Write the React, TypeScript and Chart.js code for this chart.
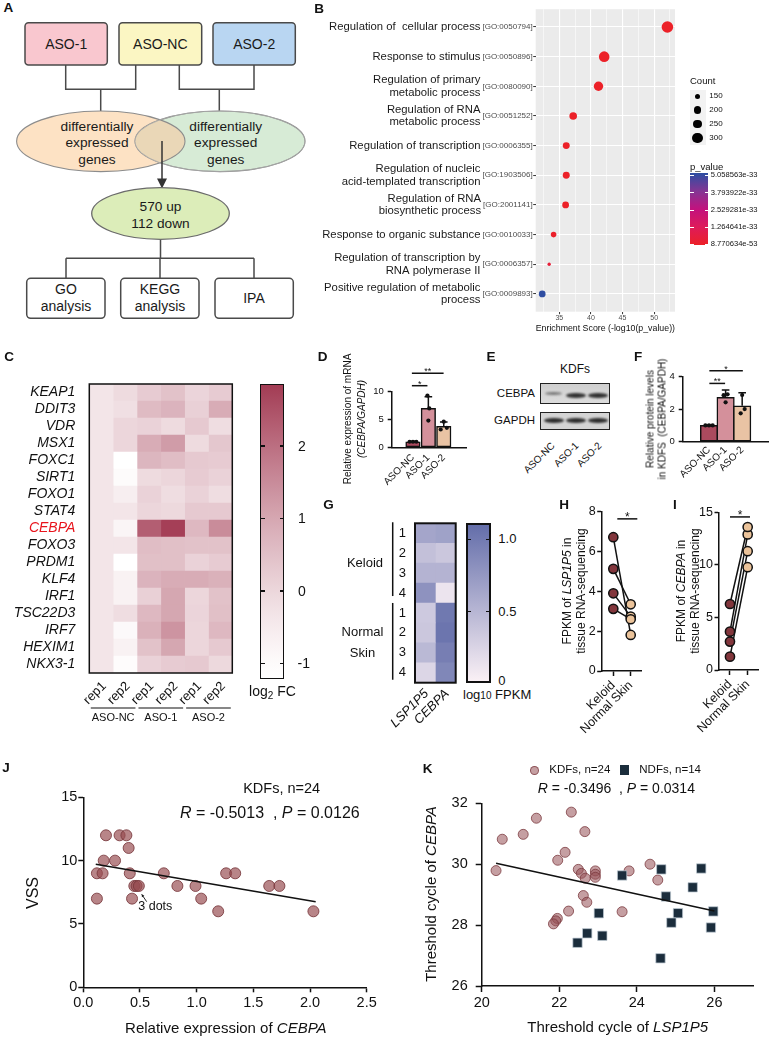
import React, { useEffect, useRef } from 'react';
import { Chart, registerables } from 'chart.js';

Chart.register(...registerables);
const FONT = '"Liberation Sans", Arial, Helvetica, sans-serif';
Chart.defaults.font.family = FONT;
Chart.defaults.color = '#111';

// ===================== Panel B data =====================
const goTerms = [
  'Regulation of  cellular process',
  'Response to stimulus',
  'Regulation of primary\nmetabolic process',
  'Regulation of RNA\nmetabolic process',
  'Regulation of transcription',
  'Regulation of nucleic\nacid-templated transcription',
  'Regulation of RNA\nbiosynthetic process',
  'Response to organic substance',
  'Regulation of transcription by\nRNA polymerase II',
  'Positive regulation of metabolic\nprocess',
];
const goIds = ['[GO:0050794]', '[GO:0050896]', '[GO:0080090]', '[GO:0051252]', '[GO:0006355]', '[GO:1903506]', '[GO:2001141]', '[GO:0010033]', '[GO:0006357]', '[GO:0009893]'];
const goScore = [52.1, 42.1, 41.2, 37.2, 36.1, 36.1, 36.0, 34.1, 33.4, 32.3];
const goCount = [330, 300, 265, 215, 195, 195, 190, 155, 90, 190];
const countKeys = [150, 200, 250, 300];
const pTickLabels = ['5.058563e-33', '3.793922e-33', '2.529281e-33', '1.264641e-33', '8.770634e-53'];
const bGridX = [32.5, 35, 37.5, 40, 42.5, 45, 47.5, 50, 52.5];

// ===================== Panel C data =====================
const genes = ['KEAP1', 'DDIT3', 'VDR', 'MSX1', 'FOXC1', 'SIRT1', 'FOXO1', 'STAT4', 'CEBPA', 'FOXO3', 'PRDM1', 'KLF4', 'IRF1', 'TSC22D3', 'IRF7', 'HEXIM1', 'NKX3-1'];
const repLabels = ['rep1', 'rep2', 'rep1', 'rep2', 'rep1', 'rep2'];
const cGroups = ['ASO-NC', 'ASO-1', 'ASO-2'];
const ncRep1 = [-0.35, -0.35, -0.35, -0.35, -0.35, -0.35, -0.35, -0.35, -0.35, -0.35, -0.35, -0.35, -0.35, -0.35, -0.35, -0.35, -0.35];
const ncRep2 = [-0.1, -0.2, 0.0, 0.0, -1.2, -1.0, -0.6, -0.35, -0.8, -0.35, -1.2, -0.7, -0.7, -0.15, -0.95, -0.7, -1.05];
const aso1Rep1 = [0.25, 0.6, 0.1, 0.9, 0.7, -0.1, 0.1, 0.0, 2.3, 0.55, 0.5, 0.75, 0.15, 0.65, 0.8, 0.45, 0.1];
const aso1Rep2 = [0.45, 0.75, -0.1, 1.2, 0.55, 0.0, -0.15, -0.05, 2.8, 0.5, 0.5, 0.9, 1.0, 1.0, 1.35, 1.0, 0.25];
const aso2Rep1 = [0.05, 0.15, 0.3, -0.1, 0.3, 0.25, 0.1, 0.3, 0.65, 0.45, 0.1, 0.9, 0.0, 0.05, 0.0, 0.0, 0.3];
const aso2Rep2 = [0.25, 0.9, -0.15, 0.35, 0.25, 0.1, -0.15, 0.3, 1.5, 0.45, 0.25, 0.8, 0.45, 0.5, 0.65, 0.3, -0.05];
const cColumns = [ncRep1, ncRep2, aso1Rep1, aso1Rep2, aso2Rep1, aso2Rep2];
const cColorTicks = [2, 1, 0, -1];

// ===================== Panel D / F data =====================
const dGroups = ['ASO-NC', 'ASO-1', 'ASO-2'];
const dMean = [1.0, 7.0, 3.77];
const dSD = [0.08, 2.1, 0.8];
const dReps = [[1.0, 1.0, 1.0], [4.8, 7.0, 9.3], [3.2, 3.5, 4.6]];
const fGroups = ['ASO-NC', 'ASO-1', 'ASO-2'];
const fMean = [1.0, 2.72, 2.2];
const fSD = [0.03, 0.44, 0.8];
const fReps = [[1.0, 1.0, 1.0], [2.41, 2.85, 2.9], [1.74, 2.0, 2.86]];

// ===================== Panel G data =====================
const gRowLabels = ['1', '2', '3', '4', '1', '2', '3', '4'];
const gGenes = ['LSP1P5', 'CEBPA'];
const gLSP1P5 = [0.64, 0.41, 0.52, 0.8, 0.33, 0.35, 0.47, 0.22];
const gCEBPA = [0.67, 0.35, 0.52, 0.1, 1.02, 1.05, 0.97, 0.9];
const gColorTicks = ['1.0', '0.5', '0'];

// ===================== Panel H / I data =====================
const pairCats = ['Keloid', 'Normal Skin'];
const hKeloid = [6.72, 5.13, 3.9, 3.12];
const hNormal = [1.81, 3.35, 2.73, 2.6];
const iKeloid = [1.27, 2.7, 3.65, 6.28];
const iNormal = [9.78, 11.3, 12.9, 13.6];

// ===================== Panel J data =====================
const jX = [0.12, 0.12, 0.17, 0.18, 0.2, 0.28, 0.32, 0.38, 0.4, 0.41, 0.43, 0.45, 0.47, 0.49, 0.71, 0.83, 0.99, 1.04, 1.19, 1.26, 1.34, 1.64, 1.73, 2.03];
const jY = [7, 9, 9, 10, 12, 10, 12, 12, 11, 9, 7, 8, 8, 8, 9, 8, 8, 7, 6, 9, 9, 8, 8, 6];
const jFitX = [0.11, 2.05];
const jFitY = [9.71, 6.76];

// ===================== Panel K data =====================
const kKdfX = [20.37, 20.53, 21.07, 21.41, 22.31, 22.66, 22.15, 21.96, 22.49, 22.57, 22.67, 22.93, 22.93, 22.93, 23.8, 24.34, 24.54, 22.62, 22.71, 22.24, 23.62, 21.95, 21.91, 21.85];
const kKdfY = [29.79, 30.82, 30.98, 31.51, 31.71, 31.07, 30.39, 30.13, 29.83, 29.7, 29.54, 29.78, 29.67, 29.57, 29.78, 30.0, 29.48, 28.97, 28.75, 28.46, 28.44, 28.22, 28.14, 28.04];
const kNdfX = [23.62, 24.63, 25.66, 25.44, 24.75, 25.06, 24.89, 25.97, 25.91, 23.02, 22.72, 23.11, 22.47, 24.61];
const kNdfY = [29.63, 29.83, 29.86, 29.24, 28.94, 28.39, 28.08, 28.45, 27.92, 28.39, 27.73, 27.65, 27.42, 26.91];
const kFitX = [20.37, 26.0];
const kFitY = [30.03, 28.46];
const kXTicks = [20, 22, 24, 26];

// ===================== helpers =====================
const clamp = (v: number) => Math.min(1, Math.max(0, v));
const lerp = (a: number, b: number, t: number) => a + (b - a) * t;
const rgb = (c: number[]) => `rgb(${Math.round(c[0])},${Math.round(c[1])},${Math.round(c[2])})`;
const C_MIN = -1.217, C_MAX = 2.855;
function colorC(v: number) {
  const t = Math.pow(clamp((v - C_MIN) / (C_MAX - C_MIN)), 1.3);
  return rgb([lerp(255, 163, t), lerp(255, 60, t), lerp(255, 84, t)]);
}
const G_MAX = 1.11;
function colorG(v: number) {
  const t = clamp(v / G_MAX);
  return rgb([lerp(250, 100, t), lerp(240, 110, t), lerp(245, 170, t)]);
}
const P_MAX = 5.058563e-33;
const pStops: [number, number[]][] = [[0, [236, 33, 40]], [0.25, [222, 27, 90]], [0.5, [194, 18, 126]], [0.75, [131, 54, 148]], [1, [44, 78, 162]]];
function colorP(p: number) {
  const t = clamp(p / P_MAX);
  for (let k = 1; k < pStops.length; k++) {
    if (t <= pStops[k][0]) {
      const [t0, c0] = pStops[k - 1];
      const [t1, c1] = pStops[k];
      const u = (t - t0) / (t1 - t0);
      return rgb([lerp(c0[0], c1[0], u), lerp(c0[1], c1[1], u), lerp(c0[2], c1[2], u)]);
    }
  }
  return rgb(pStops[pStops.length - 1][1]);
}
const rOfCount = (c: number) => 2.7 + (c - 150) * 0.0173;

type Rect = [number, number, number, number];
function fit(rect: Rect, area: Rect) {
  const [cl, ct, cw, ch] = rect;
  const [L, T, R, B] = area;
  return { padTop: T - ct, padRight: cl + cw - R, yW: L - cl, xH: ct + ch - B };
}
const base = (padding: any) => ({
  animation: false,
  responsive: false,
  events: [],
  layout: { padding },
  plugins: { legend: { display: false }, tooltip: { enabled: false } },
});
const axisStyle = (tl: number, fs: number, pad: number) => ({
  border: { display: true, color: '#111', width: 1.5 },
  grid: { display: true, drawOnChartArea: false, drawTicks: true, tickLength: tl, tickWidth: 1.5, tickColor: '#111' },
  ticks: { color: '#111', font: { size: fs }, padding: pad },
});

function ChartBox({ rect, make }: { rect: Rect; make: () => any }) {
  const ref = useRef<HTMLCanvasElement>(null);
  useEffect(() => {
    const chart = new Chart(ref.current as HTMLCanvasElement, make());
    return () => chart.destroy();
  }, []);
  const [l, t, w, h] = rect;
  return <canvas ref={ref} width={w} height={h} style={{ position: 'absolute', left: l, top: t, width: w, height: h }} />;
}

type TProps = { x: number; y: number; s: number; a?: 'l' | 'c' | 'r'; b?: boolean; c?: string; rot?: number; lh?: number; i?: boolean; children?: React.ReactNode };
function T({ x, y, s, a = 'c', b, c = '#111', rot, lh, i, children }: TProps) {
  const tx = a === 'l' ? '0' : a === 'r' ? '-100%' : '-50%';
  const origin = a === 'l' ? 'left center' : a === 'r' ? 'right center' : 'center center';
  return (
    <div style={{ position: 'absolute', left: x, top: y, fontSize: s, fontWeight: b ? 700 : 400, fontStyle: i ? 'italic' : 'normal', color: c, lineHeight: lh ? `${lh}px` : 1.15, whiteSpace: 'nowrap', textAlign: a === 'l' ? 'left' : a === 'r' ? 'right' : 'center', transformOrigin: origin, transform: `translate(${tx}, -50%)${rot ? ` rotate(${rot}deg)` : ''}`, fontFamily: FONT }}>
      {children}
    </div>
  );
}

// ===================== plugins =====================
const errPlugin = (mean: number[], sd: number[], cap: number) => ({
  id: 'err',
  afterDatasetDraw(chart: any, args: any) {
    if (args.index !== 0) return;
    const { ctx, scales: { x, y } } = chart;
    ctx.save();
    ctx.strokeStyle = '#111';
    ctx.lineWidth = 1.5;
    mean.forEach((m, i) => {
      const px = x.getPixelForValue(i);
      const y0 = y.getPixelForValue(m);
      const y1 = y.getPixelForValue(m + sd[i]);
      ctx.beginPath();
      ctx.moveTo(px, y0); ctx.lineTo(px, y1);
      ctx.moveTo(px - cap, y1); ctx.lineTo(px + cap, y1);
      ctx.stroke();
    });
    ctx.restore();
  },
});
type Sig = { x1: number; x2: number; y: number; label: string };
const sigPlugin = (sigs: Sig[], fs: number, off: number) => ({
  id: 'sig',
  afterDraw(chart: any) {
    const { ctx, scales: { x, y } } = chart;
    ctx.save();
    ctx.strokeStyle = '#111'; ctx.fillStyle = '#111'; ctx.lineWidth = 1.5;
    ctx.font = `${fs}px ${FONT}`; ctx.textAlign = 'center'; ctx.textBaseline = 'alphabetic';
    sigs.forEach((s) => {
      const py = y.getPixelForValue(s.y);
      const a = x.getPixelForValue(s.x1), b = x.getPixelForValue(s.x2);
      ctx.beginPath(); ctx.moveTo(a, py); ctx.lineTo(b, py); ctx.stroke();
      ctx.fillText(s.label, (a + b) / 2, py + off);
    });
    ctx.restore();
  },
});

// ===================== Panel B chart =====================
const rectB: Rect = [262, 0, 510, 345];
const areaB: Rect = [535.7, 9.2, 675, 311.7];
function makeB() {
  const f = fit(rectB, areaB);
  const plugin = {
    id: 'bdeco',
    beforeDraw(chart: any) {
      const { ctx, chartArea: a } = chart;
      ctx.save(); ctx.fillStyle = '#EBEBEB'; ctx.fillRect(a.left, a.top, a.right - a.left, a.bottom - a.top); ctx.restore();
    },
    afterDraw(chart: any) {
      const { ctx, chartArea: a, scales } = chart;
      const y = scales.y;
      ctx.save();
      ctx.textBaseline = 'middle';
      goTerms.forEach((term, i) => {
        const py = y.getPixelForValue(i + 1);
        ctx.font = `8px ${FONT}`; ctx.fillStyle = '#4d4d4d'; ctx.textAlign = 'right';
        const gx = a.left - 3;
        ctx.fillText(goIds[i], gx, py);
        const gw = ctx.measureText(goIds[i]).width;
        ctx.font = `11.3px ${FONT}`; ctx.fillStyle = '#1a1a1a';
        const lines = term.split('\n');
        lines.forEach((ln, k) => ctx.fillText(ln, gx - gw - 2, py + (k - (lines.length - 1) / 2) * 12.3));
      });
      ctx.restore();
    },
  };
  return {
    type: 'bubble',
    data: {
      datasets: [{
        data: goScore.map((x, i) => ({ x, y: i + 1, r: rOfCount(goCount[i]) })),
        backgroundColor: goScore.map((s) => colorP(Math.pow(10, -s))),
        borderWidth: 0,
        clip: false,
      }],
    },
    options: {
      ...base({ left: 0, top: f.padTop, right: f.padRight, bottom: 0 }),
      scales: {
        x: {
          type: 'linear', min: 31.27, max: 53.3,
          afterBuildTicks: (s: any) => { s.ticks = bGridX.map((v) => ({ value: v })); },
          ticks: { autoSkip: false, maxRotation: 0, font: { size: 7 }, color: '#4d4d4d', padding: 0, callback: (_v: any, i: number) => (bGridX[i] % 5 === 0 ? String(bGridX[i]) : '') },
          grid: {
            color: '#fff', drawTicks: true, tickLength: 2.5, tickWidth: 1,
            lineWidth: (c: any) => (c.tick && c.tick.value % 5 === 0 ? 1.1 : 0.55),
            tickColor: (c: any) => (c.tick && c.tick.value % 5 === 0 ? '#333' : 'rgba(0,0,0,0)'),
          },
          border: { display: false },
          title: { display: true, text: 'Enrichment Score (-log10(p_value))', font: { size: 9.8 }, color: '#111', padding: { top: 0, bottom: 10.8 } },
          afterFit: (s: any) => { s.height = f.xH; },
        },
        y: {
          type: 'linear', min: 0.4, max: 10.6, reverse: true,
          afterBuildTicks: (s: any) => { s.ticks = goTerms.map((_t, i) => ({ value: i + 1 })); },
          ticks: { display: false },
          grid: { color: '#fff', lineWidth: 1.1, drawTicks: true, tickLength: 2.5, tickColor: '#333', tickWidth: 1 },
          border: { display: false },
          afterFit: (s: any) => { s.width = f.yW; },
        },
      },
    },
    plugins: [plugin],
  };
}

// ===================== Panel C chart =====================
const rectC: Rect = [0, 350, 250, 400];
const areaC: Rect = [89.3, 384, 232.3, 673];
function makeC() {
  const f = fit(rectC, areaC);
  const plugin = {
    id: 'cdeco',
    afterDraw(chart: any) {
      const { ctx, chartArea: a, scales: { x } } = chart;
      ctx.save();
      ctx.strokeStyle = '#111'; ctx.lineWidth = 1.5;
      ctx.strokeRect(a.left, a.top, a.right - a.left, a.bottom - a.top);
      ctx.fillStyle = '#111';
      ctx.font = `13px ${FONT}`; ctx.textAlign = 'right'; ctx.textBaseline = 'middle';
      repLabels.forEach((lab, c) => {
        const px = x.getPixelForValue(c + 0.5);
        ctx.save(); ctx.translate(px + 3, a.bottom + 11); ctx.rotate(-Math.PI / 4); ctx.fillText(lab, 0, 0); ctx.restore();
      });
      ctx.lineWidth = 1.2;
      ctx.font = `11px ${FONT}`; ctx.textAlign = 'center';
      cGroups.forEach((g, k) => {
        const x1 = x.getPixelForValue(2 * k) + 1.5, x2 = x.getPixelForValue(2 * k + 2) - 1.5;
        ctx.beginPath(); ctx.moveTo(x1, a.bottom + 35); ctx.lineTo(x2, a.bottom + 35); ctx.stroke();
        ctx.fillText(g, (x1 + x2) / 2, a.bottom + 45);
      });
      ctx.restore();
    },
  };
  return {
    type: 'bar',
    data: {
      labels: genes,
      datasets: cColumns.map((vals, c) => ({
        data: vals.map(() => [c, c + 1]),
        backgroundColor: vals.map(colorC),
        borderWidth: 0, grouped: false, barPercentage: 1, categoryPercentage: 1,
      })),
    },
    options: {
      ...base({ left: 0, top: f.padTop, right: f.padRight, bottom: f.xH }),
      indexAxis: 'y',
      scales: {
        x: { type: 'linear', min: 0, max: 6, display: false },
        y: {
          grid: { display: false, drawTicks: false }, border: { display: false },
          ticks: { autoSkip: false, font: { size: 14, style: 'italic' }, padding: 14, color: (c: any) => (genes[c.index] === 'CEBPA' ? '#e8141c' : '#111') },
          afterFit: (s: any) => { s.width = f.yW; },
        },
      },
    },
    plugins: [plugin],
  };
}

// ===================== Panel D / F charts =====================
function makeBarPanel(rect: Rect, area: Rect, groups: string[], mean: number[], sd: number[], reps: number[][], jit: number[][], xMin: number, xMax: number, yMax: number, yStep: number, thick: number, sigs: Sig[], xPad: number) {
  const f = fit(rect, area);
  const colors = ['#ab4a5e', '#d4909b', '#e9c3a4'];
  const ax = axisStyle(4, 9.5, 4);
  return {
    type: 'bar',
    data: {
      datasets: [
        { type: 'bar', data: mean.map((m, i) => ({ x: i, y: m })), backgroundColor: colors, borderColor: '#111', borderWidth: 1.5, borderSkipped: false, barThickness: thick, order: 2 },
        { type: 'scatter', data: reps.flatMap((r, i) => r.map((v, j) => ({ x: i + jit[i][j], y: v }))), pointRadius: 2.1, pointBackgroundColor: '#111', pointBorderWidth: 0, order: 0, clip: false },
      ],
    },
    options: {
      ...base({ left: 0, top: f.padTop, right: f.padRight, bottom: 0 }),
      scales: {
        x: {
          type: 'linear', min: xMin, max: xMax,
          afterBuildTicks: (s: any) => { s.ticks = groups.map((_g, i) => ({ value: i })); },
          ticks: { autoSkip: false, callback: (_v: any, i: number) => groups[i], minRotation: 45, maxRotation: 45, font: { size: 10 }, padding: xPad, color: '#111' },
          grid: { display: false, drawTicks: false },
          border: { display: true, color: '#111', width: 1.5 },
          afterFit: (s: any) => { s.height = f.xH; },
        },
        y: {
          min: 0, max: yMax, ...ax,
          ticks: { ...ax.ticks, stepSize: yStep },
          afterFit: (s: any) => { s.width = f.yW; },
        },
      },
    },
    plugins: [errPlugin(mean, sd, 3.8), sigPlugin(sigs, 9, 1)],
  };
}
const rectD: Rect = [300, 350, 175, 150];
const areaD: Rect = [391.7, 391.7, 466, 447.3];
const dJit = [[-0.22, 0, 0.22], [0, 0.06, -0.06], [-0.2, 0.2, 0.0]];
const dSigs: Sig[] = [{ x1: -0.07, x2: 0.94, y: 11.08, label: '*' }, { x1: -0.07, x2: 1.99, y: 13.3, label: '**' }];
const rectF: Rect = [640, 350, 132, 150];
const areaF: Rect = [682.7, 376.4, 770, 441.7];
const fJit = [[-0.22, 0, 0.22], [0, -0.12, 0.12], [-0.09, 0.15, 0.0]];
const fSigs: Sig[] = [{ x1: 0.02, x2: 0.97, y: 3.57, label: '**' }, { x1: 0.02, x2: 2.04, y: 4.34, label: '*' }];

// ===================== Panel G chart =====================
const rectG: Rect = [330, 500, 130, 240];
const areaG: Rect = [415, 523.3, 455.7, 682.7];
function makeG() {
  const f = fit(rectG, areaG);
  const plugin = {
    id: 'gdeco',
    afterDraw(chart: any) {
      const { ctx, chartArea: a, scales: { x, y } } = chart;
      ctx.save();
      ctx.strokeStyle = '#111'; ctx.lineWidth = 2;
      ctx.strokeRect(a.left, a.top, a.right - a.left, a.bottom - a.top);
      ctx.lineWidth = 1.5;
      const bx = a.left - 22.3;
      ctx.beginPath(); ctx.moveTo(bx, y.getPixelForValue(0) - 11); ctx.lineTo(bx, y.getPixelForValue(3) + 3); ctx.stroke();
      ctx.beginPath(); ctx.moveTo(bx, y.getPixelForValue(4) - 10); ctx.lineTo(bx, y.getPixelForValue(7) + 7); ctx.stroke();
      ctx.fillStyle = '#111'; ctx.font = `13px ${FONT}`; ctx.textAlign = 'center'; ctx.textBaseline = 'middle';
      const m1 = (y.getPixelForValue(1) + y.getPixelForValue(2)) / 2;
      ctx.fillText('Keloid', a.left - 50, m1);
      const m2 = (y.getPixelForValue(5) + y.getPixelForValue(6)) / 2;
      ctx.fillText('Normal', a.left - 52.5, m2 - 10.5);
      ctx.fillText('Skin', a.left - 52.5, m2 + 10.5);
      ctx.font = `italic 13px ${FONT}`; ctx.textAlign = 'right';
      gGenes.forEach((g, i) => {
        const px = x.getPixelForValue(i + 0.5);
        ctx.save(); ctx.translate(px + 1.5, a.bottom + 9); ctx.rotate(-Math.PI / 4); ctx.fillText(g, 0, 0); ctx.restore();
      });
      ctx.restore();
    },
  };
  return {
    type: 'bar',
    data: {
      labels: gRowLabels,
      datasets: [gLSP1P5, gCEBPA].map((vals, c) => ({
        data: vals.map(() => [c, c + 1]),
        backgroundColor: vals.map(colorG),
        borderWidth: 0, grouped: false, barPercentage: 1, categoryPercentage: 1,
      })),
    },
    options: {
      ...base({ left: 0, top: f.padTop, right: f.padRight, bottom: f.xH }),
      indexAxis: 'y',
      scales: {
        x: { type: 'linear', min: 0, max: 2, display: false },
        y: {
          grid: { display: false, drawTicks: false }, border: { display: false },
          ticks: { autoSkip: false, font: { size: 13 }, padding: 9, color: '#111' },
          afterFit: (s: any) => { s.width = f.yW; },
        },
      },
    },
    plugins: [plugin],
  };
}

// ===================== Panel H / I charts =====================
function makePaired(rect: Rect, area: Rect, kel: number[], nor: number[], xMin: number, xMax: number, yMax: number, yStep: number, sig: Sig) {
  const f = fit(rect, area);
  const ax = axisStyle(4.5, 12.5, 1.5);
  const axX = axisStyle(5, 12.5, 2);
  const kelColor = '#82363c', norColor = '#ebc39a';
  return {
    type: 'scatter',
    data: {
      datasets: [
        ...kel.map((k, i) => ({ data: [{ x: 0, y: k }, { x: 1, y: nor[i] }], showLine: true, borderColor: '#111', borderWidth: 1.5, pointRadius: 0, order: 2, clip: false })),
        {
          data: [...kel.map((y) => ({ x: 0, y })), ...nor.map((y) => ({ x: 1, y }))],
          pointRadius: 4.6, pointBorderWidth: 1.5, pointBorderColor: '#111',
          pointBackgroundColor: [...kel.map(() => kelColor), ...nor.map(() => norColor)],
          order: 1, clip: false,
        },
      ],
    },
    options: {
      ...base({ left: 0, top: f.padTop, right: f.padRight, bottom: 0 }),
      scales: {
        x: {
          type: 'linear', min: xMin, max: xMax, ...axX,
          afterBuildTicks: (s: any) => { s.ticks = pairCats.map((_c, i) => ({ value: i })); },
          ticks: { ...axX.ticks, autoSkip: false, minRotation: 45, maxRotation: 45, callback: (_v: any, i: number) => pairCats[i] },
          afterFit: (s: any) => { s.height = f.xH; },
        },
        y: {
          min: 0, max: yMax, ...ax,
          ticks: { ...ax.ticks, stepSize: yStep },
          afterFit: (s: any) => { s.width = f.yW; },
        },
      },
    },
    plugins: [sigPlugin([sig], 12, 2)],
  };
}
const rectH: Rect = [560, 500, 90, 245];
const areaH: Rect = [601.7, 511.7, 641.7, 671];
const rectI: Rect = [680, 500, 92, 245];
const areaI: Rect = [719, 512.3, 758.3, 670];

// ===================== Panel J chart =====================
const rectJ: Rect = [0, 760, 386, 278];
const areaJ: Rect = [83.3, 797.3, 366.7, 987.3];
const jNote = { text: '3 dots', x: 0.485, y: 6.36, tx: 0.559, ty: 6.76, hx: 0.515, hy: 7.34 };
function makeJ() {
  const f = fit(rectJ, areaJ);
  const axX = axisStyle(5, 14.5, 2.3);
  const axY = axisStyle(5, 14.5, 1);
  const note = {
    id: 'jnote',
    afterDraw(chart: any) {
      const { ctx, scales: { x, y } } = chart;
      ctx.save();
      ctx.fillStyle = '#111'; ctx.font = `12.5px ${FONT}`; ctx.textAlign = 'left'; ctx.textBaseline = 'middle';
      ctx.fillText(jNote.text, x.getPixelForValue(jNote.x), y.getPixelForValue(jNote.y));
      const x1 = x.getPixelForValue(jNote.tx), y1 = y.getPixelForValue(jNote.ty);
      const x2 = x.getPixelForValue(jNote.hx), y2 = y.getPixelForValue(jNote.hy);
      ctx.strokeStyle = '#111'; ctx.lineWidth = 0.9;
      ctx.beginPath(); ctx.moveTo(x1, y1); ctx.lineTo(x2, y2); ctx.stroke();
      const ang = Math.atan2(y2 - y1, x2 - x1);
      ctx.beginPath();
      ctx.moveTo(x2, y2);
      ctx.lineTo(x2 - 3 * Math.cos(ang - 0.5), y2 - 3 * Math.sin(ang - 0.5));
      ctx.lineTo(x2 - 3 * Math.cos(ang + 0.5), y2 - 3 * Math.sin(ang + 0.5));
      ctx.closePath(); ctx.fill();
      ctx.restore();
    },
  };
  return {
    type: 'scatter',
    data: {
      datasets: [
        { data: jX.map((x, i) => ({ x, y: jY[i] })), pointRadius: 5.5, pointBackgroundColor: 'rgba(150,75,80,0.68)', pointBorderColor: 'rgba(120,55,60,0.85)', pointBorderWidth: 1, order: 2, clip: false },
        { data: jFitX.map((x, i) => ({ x, y: jFitY[i] })), showLine: true, borderColor: '#111', borderWidth: 1.6, pointRadius: 0, order: 1 },
      ],
    },
    options: {
      ...base({ left: 0, top: f.padTop, right: f.padRight, bottom: 0 }),
      scales: {
        x: { type: 'linear', min: 0, max: 2.5, ...axX, ticks: { ...axX.ticks, stepSize: 0.5, callback: (v: any) => Number(v).toFixed(1) }, afterFit: (s: any) => { s.height = f.xH; } },
        y: { type: 'linear', min: 0, max: 15, ...axY, ticks: { ...axY.ticks, stepSize: 5 }, afterFit: (s: any) => { s.width = f.yW; } },
      },
    },
    plugins: [note],
  };
}

// ===================== Panel K chart =====================
const rectK: Rect = [386, 760, 386, 278];
const areaK: Rect = [481.7, 803.3, 753.2, 986];
function makeK() {
  const f = fit(rectK, areaK);
  const axX = axisStyle(6, 14.5, 2.6);
  const axY = axisStyle(6, 14.5, 8);
  return {
    type: 'scatter',
    data: {
      datasets: [
        { data: kKdfX.map((x, i) => ({ x, y: kKdfY[i] })), pointRadius: 5, pointBackgroundColor: 'rgba(150,80,85,0.55)', pointBorderColor: 'rgba(125,60,65,0.8)', pointBorderWidth: 1, order: 3, clip: false },
        { data: kNdfX.map((x, i) => ({ x, y: kNdfY[i] })), pointStyle: 'rect', pointRadius: 6.6, pointBackgroundColor: '#1b2d3c', pointBorderColor: 'rgba(190,200,210,0.9)', pointBorderWidth: 0.8, order: 2, clip: false },
        { data: kFitX.map((x, i) => ({ x, y: kFitY[i] })), showLine: true, borderColor: '#111', borderWidth: 1.6, pointRadius: 0, order: 1 },
      ],
    },
    options: {
      ...base({ left: 0, top: f.padTop, right: f.padRight, bottom: 0 }),
      scales: {
        x: { type: 'linear', min: 20, max: 27, ...axX, afterBuildTicks: (s: any) => { s.ticks = kXTicks.map((v) => ({ value: v })); }, ticks: { ...axX.ticks, autoSkip: false }, afterFit: (s: any) => { s.height = f.xH; } },
        y: { type: 'linear', min: 26, max: 32, ...axY, ticks: { ...axY.ticks, stepSize: 2 }, afterFit: (s: any) => { s.width = f.yW; } },
      },
    },
    plugins: [],
  };
}

// ===================== Panel A (flow chart) =====================
function PanelA() {
  const stroke = '#4a4a4a';
  const txt = (x: number, y: number, s: string, size = 14) => (
    <text x={x} y={y} fontSize={size} textAnchor="middle" dominantBaseline="central" fill="#1a1a1a">{s}</text>
  );
  return (
    <svg width={320} height={330} style={{ position: 'absolute', left: 0, top: 0 }} fontFamily={FONT}>
      <defs>
        <clipPath id="clipLeftEll"><ellipse cx={100.8} cy={141.3} rx={84.2} ry={30.3} /></clipPath>
      </defs>
      <path d="M65.7 65 V89.3 H135.7 V65 M100.7 89.3 V111 M179.3 65 V89.3 H254 V65 M219.3 89.3 V111 M160.5 239.3 V258.3 M66 258.3 H254 M66 258.3 V278 M160 258.3 V278 M254 258.3 V278" stroke={stroke} strokeWidth={1.5} fill="none" />
      <rect x={25} y={22.7} width={82.3} height={42.3} rx={3.5} fill="#f9c7cf" stroke={stroke} strokeWidth={1.5} />
      <rect x={119} y={22.7} width={82.7} height={42.3} rx={3.5} fill="#fbf6c3" stroke={stroke} strokeWidth={1.5} />
      <rect x={213} y={22.7} width={82.3} height={42.3} rx={3.5} fill="#b9d6f2" stroke={stroke} strokeWidth={1.5} />
      {txt(66.2, 44, 'ASO-1')}
      {txt(160.3, 44, 'ASO-NC')}
      {txt(254.2, 44, 'ASO-2')}
      <ellipse cx={100.8} cy={141.3} rx={84.2} ry={30.3} fill="#fde2c4" />
      <ellipse cx={220} cy={141.3} rx={85} ry={30.3} fill="#d7ebd6" stroke="#8c8c8c" strokeWidth={1.1} />
      <ellipse cx={220} cy={141.3} rx={85} ry={30.3} fill="#ead7b7" clipPath="url(#clipLeftEll)" />
      <ellipse cx={100.8} cy={141.3} rx={84.2} ry={30.3} fill="none" stroke="#8c8c8c" strokeWidth={1.1} />
      <ellipse cx={220} cy={141.3} rx={85} ry={30.3} fill="none" stroke="#a9a9a9" strokeWidth={0.8} />
      {txt(97, 126, 'differentially', 13.7)}
      {txt(97, 142.7, 'expressed', 13.7)}
      {txt(97, 159.3, 'genes', 13.7)}
      {txt(225.7, 126, 'differentially', 13.7)}
      {txt(225.7, 142.7, 'expressed', 13.7)}
      {txt(225.7, 159.3, 'genes', 13.7)}
      <line x1={162} y1={141} x2={162} y2={180} stroke="#333" strokeWidth={1.5} />
      <polygon points="157,178.5 167,178.5 162,188.5" fill="#333" />
      <ellipse cx={160.5} cy={213.5} rx={68.8} ry={25.8} fill="#dcedb9" stroke="#6a6a6a" strokeWidth={1.3} />
      {txt(160.5, 206.7, '570 up', 13.7)}
      {txt(160.5, 223.3, '112 down', 13.7)}
      <rect x={26.7} y={278.3} width={78.3} height={40} rx={4} fill="#fff" stroke={stroke} strokeWidth={1.5} />
      <rect x={120.7} y={278.3} width={78.3} height={40} rx={4} fill="#fff" stroke={stroke} strokeWidth={1.5} />
      <rect x={215} y={278.3} width={78.3} height={40} rx={4} fill="#fff" stroke={stroke} strokeWidth={1.5} />
      {txt(66, 289, 'GO')}
      {txt(66, 306, 'analysis')}
      {txt(160, 289, 'KEGG')}
      {txt(160, 306, 'analysis')}
      {txt(254, 298, 'IPA')}
    </svg>
  );
}

// ===================== legends & overlays =====================
function gradientC() {
  const n = 14;
  return `linear-gradient(to bottom, ${Array.from({ length: n + 1 }, (_u, k) => `${colorC(C_MAX - ((C_MAX - C_MIN) * k) / n)} ${((k / n) * 100).toFixed(1)}%`).join(', ')})`;
}
function gradientG() {
  return `linear-gradient(to bottom, ${colorG(G_MAX)} 0%, ${colorG(0)} 100%)`;
}
function gradientP() {
  return `linear-gradient(to top, ${pStops.map(([t, c]) => `${rgb(c)} ${t * 100}%`).join(', ')})`;
}

function Legends() {
  const cTickY = (v: number) => 384 + ((C_MAX - v) / (C_MAX - C_MIN)) * 295;
  const gTickY = [539.3, 611.7, 680.7];
  const pTickY = [175, 192.7, 210, 227.3, 244.3];
  const keyY = [96.3, 110, 124, 138];
  return (
    <>
      {/* B legend */}
      <T x={690} y={80.7} s={9.5} a="l">Count</T>
      <div style={{ position: 'absolute', left: 690, top: 89.5, width: 15.5, height: 55.5, background: '#F2F2F2' }} />
      {countKeys.map((c, k) => {
        const r = rOfCount(c);
        return <div key={c} style={{ position: 'absolute', left: 697.7 - r, top: keyY[k] - r, width: 2 * r, height: 2 * r, borderRadius: '50%', background: '#000' }} />;
      })}
      {countKeys.map((c, k) => <T key={'l' + c} x={709.3} y={keyY[k]} s={8} a="l">{String(c)}</T>)}
      <T x={690} y={166.7} s={9.5} a="l">p_value</T>
      <div style={{ position: 'absolute', left: 690, top: 173.3, width: 18.3, height: 72, background: gradientP() }} />
      {pTickY.map((y, k) => (
        <React.Fragment key={'pt' + k}>
          <div style={{ position: 'absolute', left: 690, top: y - 0.5, width: 3.5, height: 1, background: '#fff' }} />
          <div style={{ position: 'absolute', left: 704.8, top: y - 0.5, width: 3.5, height: 1, background: '#fff' }} />
          <T x={710.7} y={y} s={7.6} a="l">{pTickLabels[k]}</T>
        </React.Fragment>
      ))}

      {/* C colour bar */}
      <div style={{ position: 'absolute', left: 260, top: 384, width: 24.3, height: 295, boxSizing: 'border-box', border: '1.5px solid #111', background: gradientC() }} />
      {cColorTicks.map((v) => (
        <React.Fragment key={'ct' + v}>
          <div style={{ position: 'absolute', left: 260, top: cTickY(v) - 0.75, width: 4.5, height: 1.5, background: '#111' }} />
          <div style={{ position: 'absolute', left: 279.8, top: cTickY(v) - 0.75, width: 4.5, height: 1.5, background: '#111' }} />
          <T x={v < 0 ? 297.5 : 298} y={cTickY(v)} s={14} a="l">{String(v)}</T>
        </React.Fragment>
      ))}
      <T x={272.5} y={692} s={14}>log<sub style={{ fontSize: 10, verticalAlign: -3 }}>2</sub> FC</T>

      {/* G colour bar */}
      <div style={{ position: 'absolute', left: 466, top: 523.3, width: 24.7, height: 159.4, boxSizing: 'border-box', border: '2px solid #111', background: gradientG() }} />
      {gTickY.slice(0, 2).map((y, k) => (
        <React.Fragment key={'gt' + k}>
          <div style={{ position: 'absolute', left: 466, top: y - 0.75, width: 5, height: 1.5, background: '#111' }} />
          <div style={{ position: 'absolute', left: 485.7, top: y - 0.75, width: 5, height: 1.5, background: '#111' }} />
        </React.Fragment>
      ))}
      {gColorTicks.map((s, k) => <T key={'gl' + k} x={498.3} y={gTickY[k]} s={13} a="l">{s}</T>)}
      <T x={463} y={695} s={13} a="l">log<span style={{ fontSize: 10 }}>10</span> FPKM</T>

      {/* E western blot */}
      <T x={575} y={370} s={12}>KDFs</T>
      <T x={535} y={394} s={11.5} a="r">CEBPA</T>
      <T x={535} y={421} s={11.5} a="r">GAPDH</T>
      <div style={{ position: 'absolute', left: 540, top: 383, width: 70, height: 21.3, boxSizing: 'border-box', border: '1.5px solid #222', background: 'linear-gradient(#cfcfcf, #dcdcdc)', overflow: 'hidden' }}>
        <div style={{ position: 'absolute', left: 4, top: 7.5, width: 17, height: 3.5, borderRadius: '50%', background: 'rgba(60,60,60,0.6)', filter: 'blur(0.8px)' }} />
        <div style={{ position: 'absolute', left: 25, top: 8.5, width: 20, height: 5, borderRadius: '50%', background: 'rgba(30,30,30,0.9)', filter: 'blur(0.8px)' }} />
        <div style={{ position: 'absolute', left: 47, top: 8.5, width: 20, height: 5, borderRadius: '50%', background: 'rgba(30,30,30,0.9)', filter: 'blur(0.8px)' }} />
      </div>
      <div style={{ position: 'absolute', left: 540, top: 411.7, width: 70, height: 18.5, boxSizing: 'border-box', border: '1.5px solid #222', background: '#d4d4d4', overflow: 'hidden' }}>
        <div style={{ position: 'absolute', left: 2.5, top: 5.5, width: 20, height: 5, borderRadius: '50%', background: 'rgba(25,25,25,0.9)', filter: 'blur(0.8px)' }} />
        <div style={{ position: 'absolute', left: 24.5, top: 5.5, width: 20, height: 5, borderRadius: '50%', background: 'rgba(25,25,25,0.9)', filter: 'blur(0.8px)' }} />
        <div style={{ position: 'absolute', left: 46.5, top: 5.5, width: 20, height: 5, borderRadius: '50%', background: 'rgba(25,25,25,0.9)', filter: 'blur(0.8px)' }} />
      </div>
      {['ASO-NC', 'ASO-1', 'ASO-2'].map((l, k) => <T key={'lane' + k} x={[553, 577, 600][k]} y={444} s={10} a="r" rot={-45}>{l}</T>)}

      {/* axis titles */}
      <T x={354.5} y={419} s={10} rot={-90} lh={14}>Relative expression of mRNA<br /><i>(CEBPA/GAPDH)</i></T>
      <T x={655.5} y={419} s={10} rot={-90} lh={11.5}>Relative protein levels<br />in KDFS&nbsp;&nbsp;(CEBPA/GAPDH)</T>
      <T x={574.3} y={591} s={12} rot={-90} lh={13.5}>FPKM of <i>LSP1P5</i> in<br />tissue RNA-sequencing</T>
      <T x={688} y={591} s={12} rot={-90} lh={13.5}>FPKM of <i>CEBPA</i> in<br />tissue RNA-sequencing</T>

      {/* J texts */}
      <T x={281.7} y={788.3} s={14.5}>KDFs, n=24</T>
      <T x={180} y={813.3} s={16} a="l"><i>R</i> = -0.5013&nbsp;&nbsp;, <i>P</i> = 0.0126</T>
      <T x={33.3} y={893.3} s={16} rot={-90}>VSS</T>
      <T x={225.8} y={1028.3} s={15}>Relative expression of <i>CEBPA</i></T>

      {/* K texts */}
      <div style={{ position: 'absolute', left: 534.3 - 4.5, top: 770 - 4.5, width: 9, height: 9, borderRadius: '50%', boxSizing: 'border-box', background: 'rgba(150,80,85,0.55)', border: '1px solid rgba(125,60,65,0.8)' }} />
      <T x={549.3} y={770} s={11.5} a="l">KDFs, n=24</T>
      <div style={{ position: 'absolute', left: 624.3 - 4.7, top: 770 - 4.7, width: 9.4, height: 9.4, background: '#1b2d3c' }} />
      <T x={639.3} y={770} s={11.5} a="l">NDFs, n=14</T>
      <T x={537.7} y={788.3} s={14} a="l"><i>R</i> = -0.3496&nbsp;&nbsp;, <i>P</i> = 0.0314</T>
      <T x={431} y={894} s={15} rot={-90}>Threshold cycle of <i>CEBPA</i></T>
      <T x={617.7} y={1027.3} s={15}>Threshold cycle of <i>LSP1P5</i></T>

      {/* panel letters */}
      {([['A', 8.3, 8.3], ['B', 319, 9.2], ['C', 9, 357], ['D', 322.5, 357], ['E', 491, 357], ['F', 638, 357], ['G', 328.5, 505], ['H', 564, 505], ['I', 675, 505], ['J', 6, 768], ['K', 427.7, 769]] as [string, number, number][]).map(([l, x, y]) => (
        <T key={'p' + l} x={x} y={y} s={13.5} b>{l}</T>
      ))}
    </>
  );
}

export default function App() {
  useEffect(() => {
    document.body.style.margin = '0';
    document.body.style.background = '#fff';
  }, []);
  return (
    <div style={{ position: 'relative', width: 772, height: 1038, overflow: 'hidden', background: '#fff', fontFamily: FONT, color: '#111' }}>
      <PanelA />
      <ChartBox rect={rectB} make={makeB} />
      <ChartBox rect={rectC} make={makeC} />
      <ChartBox rect={rectD} make={() => makeBarPanel(rectD, areaD, dGroups, dMean, dSD, dReps, dJit, -0.576, 2.64, 10, 5, 14.5, dSigs, 4.5)} />
      <ChartBox rect={rectF} make={() => makeBarPanel(rectF, areaF, fGroups, fMean, fSD, fReps, fJit, -0.73, 2.7, 4, 2, 17.5, fSigs, 2.5)} />
      <ChartBox rect={rectG} make={makeG} />
      <ChartBox rect={rectH} make={() => makePaired(rectH, areaH, hKeloid, hNormal, -0.667, 1.632, 8, 2, { x1: 0.23, x2: 1.38, y: 7.64, label: '*' })} />
      <ChartBox rect={rectI} make={() => makePaired(rectI, areaI, iKeloid, iNormal, -0.62, 1.6, 15, 5, { x1: 0, x2: 1.13, y: 14.56, label: '*' })} />
      <ChartBox rect={rectJ} make={makeJ} />
      <ChartBox rect={rectK} make={makeK} />
      <Legends />
    </div>
  );
}
